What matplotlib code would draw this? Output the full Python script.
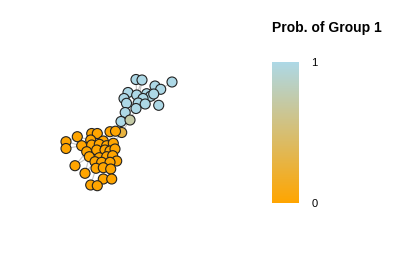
import matplotlib
matplotlib.use("Agg")
import matplotlib.pyplot as plt
import numpy as np
from matplotlib.colors import LinearSegmentedColormap, Normalize
from matplotlib.cm import ScalarMappable

plt.rcParams['font.family'] = ['Liberation Sans', 'DejaVu Sans']

# node layout (x, y in layout units, y downward) and membership probability
node_x = [136, 142, 172, 155, 160.7, 128, 136.7, 146.7, 150.5, 153.7, 124, 143, 138.2, 126.5, 145.2, 158.7, 136, 125.2, 121, 130,
          121.7, 110, 115.5, 91.7, 97.3, 77.3, 66, 66, 90.7, 103.3, 81.7, 91.7, 99.3, 106.7, 113.3, 86.7, 96.7, 105, 110, 115,
          89.3, 99.3, 106.7, 112.7, 116.7, 95, 101.7, 110, 75, 85, 96, 103.3, 110.7, 103.3, 111.7, 90.7, 97.3]
node_y = [79.5, 80, 82, 86, 89.3, 92.5, 95, 93.7, 96.3, 94, 98.5, 98.5, 103, 103.3, 104, 105.3, 108.5, 112.5, 121.5, 120,
          132.5, 131.7, 131.2, 133.5, 133.5, 136.7, 141.7, 148.5, 140, 141, 145.7, 145, 144.3, 145.7, 143.3, 151.7, 150, 150, 151, 149,
          156.7, 157.7, 156.7, 155.7, 161, 161.7, 162.3, 162.3, 165.7, 173.3, 168.3, 167.7, 169, 179, 179, 185, 185.7]
prob = [1.0] * 19 + [0.72] + [0.28] + [0.0] * 36

edges = [(0, 6), (1, 12), (1, 6), (2, 4), (3, 7), (3, 9), (4, 9), (5, 13), (5, 6), (6, 11), (7, 11), (8, 14),
         (15, 8), (10, 13), (11, 12), (12, 16), (13, 16), (14, 16), (16, 17), (17, 18), (17, 19), (16, 19),
         (18, 19), (6, 10), (7, 8), (11, 14), (12, 13), (19, 20), (18, 20), (18, 22),
         (20, 22), (21, 22), (20, 34), (21, 29), (23, 24), (23, 28), (24, 29), (25, 28), (25, 30), (26, 25),
         (26, 30), (27, 30), (26, 27), (28, 31), (29, 32), (29, 33), (30, 31), (31, 36), (32, 36), (33, 37),
         (34, 39), (33, 38), (35, 40), (35, 36), (36, 41), (37, 42), (38, 43), (39, 43), (40, 45), (41, 46),
         (42, 47), (43, 44), (44, 47), (45, 50), (46, 51), (47, 52), (48, 35), (48, 40), (49, 40), (50, 55),
         (51, 53), (52, 54), (53, 56), (54, 53), (55, 56), (49, 45), (28, 35), (31, 37), (32, 37), (34, 38),
         (24, 32), (41, 42), (45, 46), (46, 47), (50, 51), (51, 52)]

legend_title = "Prob. of Group 1"
cbar_ticks = [0, 1]

cmap = LinearSegmentedColormap.from_list("grp", ["#FFA500", "#ADD8E6"])
norm = Normalize(0, 1)

fig = plt.figure(figsize=(4.2, 2.8), dpi=100)
ax = fig.add_axes([0, 0, 1, 1])
ax.set_xlim(0, 420)
ax.set_ylim(280, 0)
ax.axis('off')

for a, b in edges:
    ax.plot([node_x[a], node_x[b]], [node_y[a], node_y[b]], color='#c4c4c4', lw=0.8, zorder=1)

ax.scatter(node_x, node_y, c=prob, cmap=cmap, norm=norm, s=52, edgecolors='#222222',
           linewidths=0.8, zorder=2)

cax = fig.add_axes([272 / 420, 1 - 203 / 280, 27 / 420, 141 / 280])
cb = fig.colorbar(ScalarMappable(norm=norm, cmap=cmap), cax=cax, ticks=cbar_ticks)
cb.outline.set_visible(False)
cb.ax.tick_params(length=0, labelsize=8, pad=9)
cb.ax.set_yticklabels([str(t) for t in cbar_ticks])
fig.text(272 / 420, 1 - 28 / 280, legend_title, fontsize=10, fontweight='bold', va='center', ha='left')

fig.savefig("out.png", dpi=100)
